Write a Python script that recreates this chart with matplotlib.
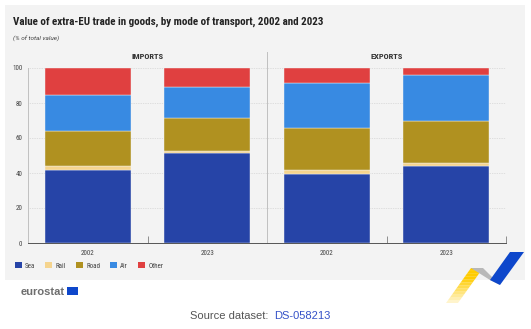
"""Extra-EU trade in goods by mode of transport, 2002 vs 2023 (eurostat style)."""

import matplotlib

matplotlib.use("Agg")
import matplotlib.pyplot as plt
from matplotlib.patches import Patch, Polygon, Rectangle

# ---- data (% of total value) ----
flows = ["IMPORTS", "EXPORTS"]
years = ["2002", "2023", "2002", "2023"]
modes = ["Sea", "Rail", "Road", "Air", "Other"]
sea = [41.7, 51.2, 39.6, 43.8]
rail = [2.1, 1.4, 2.1, 1.9]
road = [20.0, 18.6, 23.8, 24.0]
air = [20.6, 17.8, 26.1, 26.3]
other = [15.6, 11.0, 8.4, 4.0]
yticks = [0, 20, 40, 60, 80, 100]

colors = ["#2644A7", "#F5D48E", "#B09120", "#388AE2", "#E04040"]
COND = ["Roboto Condensed", "Liberation Sans Narrow", "Roboto", "DejaVu Sans"]

W, H = 531, 329
fig = plt.figure(figsize=(W / 100, H / 100), dpi=100, facecolor="white")

# background layer in pixel coordinates
bg = fig.add_axes([0, 0, 1, 1], zorder=-1)
bg.set_xlim(0, W)
bg.set_ylim(H, 0)
bg.axis("off")
bg.add_patch(Rectangle((5, 5), 520, 275, facecolor="#F3F3F3", edgecolor="none"))

# main chart
ax = fig.add_axes([28 / W, 1 - 243 / H, 478 / W, 175 / H])
ax.set_facecolor("none")
x = [0.5, 1.5, 2.5, 3.5]
bottom = [0.0] * 4
for name, vals, c in zip(modes, [sea, rail, road, air, other], colors):
    ax.bar(x, vals, width=0.72, bottom=bottom, color=c, edgecolor="#F3F3F3",
           linewidth=0.3, zorder=3, label=name)
    bottom = [b + v for b, v in zip(bottom, vals)]

ax.set_xlim(0, 4)
ax.set_ylim(0, 100)
ax.set_yticks(yticks)
ax.set_yticklabels([str(t) for t in yticks], fontsize=5, color="#444444",
                   family=COND)
ax.set_xticks(x)
ax.set_xticklabels(years, fontsize=5, color="#444444", family=COND)
ax.tick_params(axis="both", length=0)
ax.tick_params(axis="y", pad=4)
ax.tick_params(axis="x", pad=5)
ax.set_xticks([1, 3, 4], minor=True)
ax.tick_params(axis="x", which="minor", direction="in", length=5, width=0.5,
               color="#666666")

ax.yaxis.grid(True, linestyle=(0, (1, 1.5)), color="#C8C8C8", linewidth=0.5,
              zorder=0)
for s in ["top", "right"]:
    ax.spines[s].set_visible(False)
ax.spines["left"].set_color("#C0C0C0")
ax.spines["left"].set_linewidth(0.7)
ax.spines["bottom"].set_color("#555555")
ax.spines["bottom"].set_linewidth(0.7)

# divider between imports and exports
ax.plot([2, 2], [0, 109], color="#C0C0C0", linewidth=0.7, clip_on=False, zorder=2)
for i, f in enumerate(flows):
    ax.text(1 + 2 * i, 106.3, f, ha="center", va="center", fontsize=6,
            fontweight="bold", color="#333333", family=COND)

# titles
fig.text(13 / W, 1 - 22 / H,
         "Value of extra-EU trade in goods, by mode of transport, 2002 and 2023",
         fontsize=7.9, fontweight="bold", color="#222222", va="center",
         family=COND)
fig.text(13 / W, 1 - 38 / H, "(% of total value)", fontsize=4.6,
         style="italic", color="#444444", va="center",
         family=["Roboto", "DejaVu Sans"])

# legend
handles = [Patch(facecolor=c, edgecolor="none", label=m)
           for m, c in zip(modes, colors)]
leg = fig.legend(handles=handles, loc="center left",
                 bbox_to_anchor=(12 / W, 1 - 266 / H), ncol=5, frameon=False,
                 handlelength=1.0, handleheight=1.0,
                 handletextpad=0.5, columnspacing=1.4, borderaxespad=0,
                 prop={"family": COND, "size": 5})
for t in leg.get_texts():
    t.set_color("#444444")

# eurostat logo
bg.text(21, 292, "eurostat", fontsize=8, fontweight="bold", color="#6E6E6E",
        va="center", ha="left", family=["Liberation Sans", "DejaVu Sans"])
bg.add_patch(Rectangle((67, 287), 11, 8, facecolor="#0E47CB", edgecolor="none"))

# swoosh decoration
steps = 12
for k in range(steps):
    t0, t1 = k / steps, (k + 1) / steps
    p = lambda t, a, b: (a[0] + (b[0] - a[0]) * t, a[1] + (b[1] - a[1]) * t)
    A, B = (446, 303), (471, 268)
    C, D = (458, 303), (483, 268)
    bg.add_patch(Polygon([p(t0, A, B), p(t1, A, B), p(t1, C, D), p(t0, C, D)],
                         closed=True, facecolor="#FFCC00", edgecolor="none",
                         alpha=min(1, 0.1 + 1.2 * t1)))
bg.add_patch(Polygon([(471, 268), (483, 268), (500, 285), (490, 280)],
                     closed=True, facecolor="#B8B8B8", edgecolor="none"))
bg.add_patch(Polygon([(490, 280), (510, 252), (524, 252), (500, 285)],
                     closed=True, facecolor="#0E47CB", edgecolor="none"))

# source line
fig.text(268 / W, 1 - 316 / H, "Source dataset:", ha="right", va="center",
         fontsize=8, color="#555555", family=["Liberation Sans", "DejaVu Sans"])
fig.text(274 / W, 1 - 316 / H, "DS-058213", ha="left", va="center",
         fontsize=8, color="#3552C8", family=["Liberation Sans", "DejaVu Sans"])

fig.savefig("out.png", dpi=100, facecolor="white")
